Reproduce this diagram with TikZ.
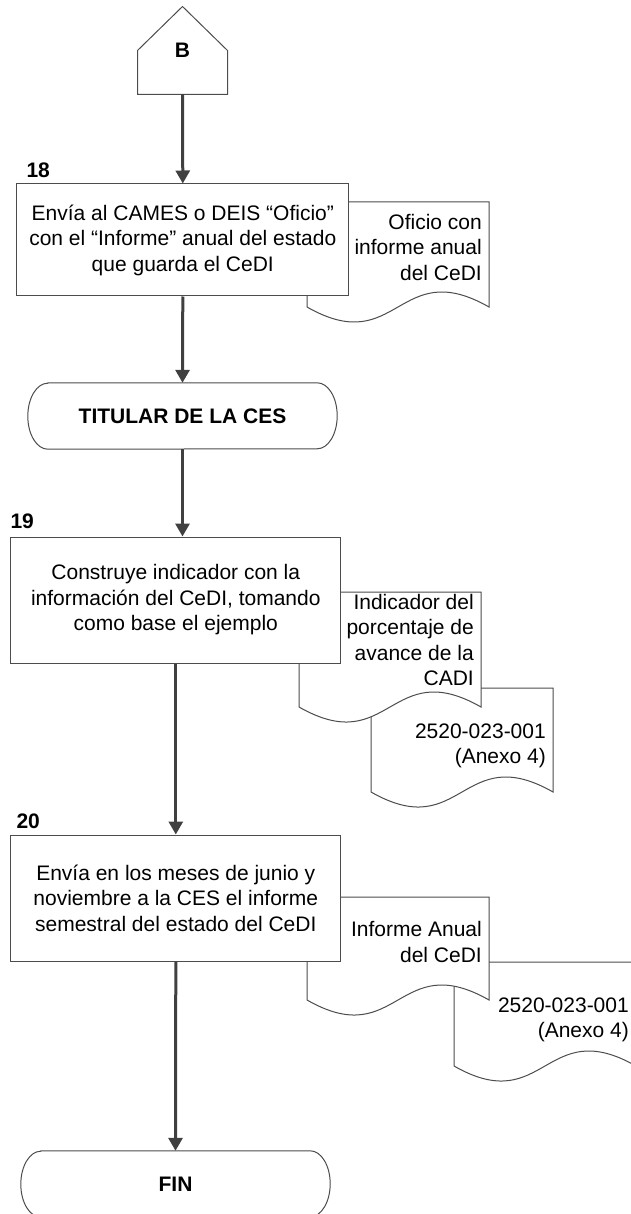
\documentclass[tikz,border=0pt]{standalone}
\usepackage{fontspec}
\setmainfont{Liberation Sans}
\usetikzlibrary{arrows.meta,positioning,calc}

\newcommand\dgfont{\fontsize{21}{25.5}\selectfont}

\tikzset{
  proc/.style={draw=black!70,line width=1pt,fill=white,align=center,inner sep=0pt,font=\dgfont},
  term/.style={minimum width=309pt,minimum height=66pt,inner sep=0pt,font=\dgfont\bfseries},
  conn/.style={minimum width=89.6pt,minimum height=87.6pt,inner sep=0pt,font=\dgfont\bfseries},
  outline/.style={draw=black!70,line width=1pt,fill=white},
  doctext/.style={align=right,anchor=east,inner sep=0pt,font=\dgfont},
  num/.style={inner sep=0pt,font=\dgfont\bfseries},
  flow/.style={draw=black!75,line width=3pt,-{Triangle[length=13pt,width=14pt]}}
}

\begin{document}
\begin{tikzpicture}[x=1pt,y=1pt]
  \useasboundingbox (0,0) rectangle (630,-1214);
  % documentos (se dibujan antes que las cajas)
  \foreach \nm/\xl/\yt/\yb/\ty/\txt in {
      d18/307/202/307/247/{Oficio con\\informe anual\\del CeDI},
      d19b/371/688/792/746/{2520-023-001\\(Anexo 4)},
      d19a/299/592/707/640/{Indicador del\\porcentaje de\\avance de la\\CADI},
      d20b/454/962/1066/1020/{2520-023-001\\(Anexo 4)},
      d20a/307/897/1000/942/{Informe Anual\\del CeDI}}{
    \draw[outline] (\xl,-\yt) -- (\xl+182,-\yt) -- (\xl+182,-\yb)
      .. controls (\xl+91,-\yb+52) and (\xl+91,-\yb-52) .. (\xl,-\yb) -- cycle;
    \node[doctext] (\nm) at (\xl+175,-\ty) {\txt};
  }
  % conector de pagina
  \node[conn] (B) at (182.5,-50.5) {B};
  \draw[outline,fill=none] (B.south west) -- (B.west) -- (B.north) -- (B.east) -- (B.south east) -- cycle;
  % actividades
  \node[proc,minimum width=332pt,minimum height=112pt] (box18) at (182.8,-240)
    {Envía al CAMES o DEIS “Oficio”\\con el “Informe” anual del estado\\que guarda el CeDI};
  \node[term] (ces) at (182.5,-416) {TITULAR DE LA CES};
  \node[proc,minimum width=330pt,minimum height=126pt] (box19) at (175.8,-600)
    {Construye indicador con la\\información del CeDI, tomando\\como base el ejemplo};
  \node[proc,minimum width=330pt,minimum height=126pt] (box20) at (175.8,-898)
    {Envía en los meses de junio y\\noviembre a la CES el informe\\semestral del estado del CeDI};
  \node[term] (fin) at (175.5,-1184) {FIN};
  \foreach \t in {ces,fin}
    \draw[outline,fill=none] ($(\t.north west)+(20,0)$) -- ($(\t.north east)+(-20,0)$)
      arc[start angle=90,end angle=-90,x radius=20pt,y radius=33pt]
      -- ($(\t.south west)+(20,0)$)
      arc[start angle=270,end angle=90,x radius=20pt,y radius=33pt] -- cycle;
  % numeros de paso
  \node[num,above right=6pt and 10pt of box18.north west] (n18) {18};
  \node[num,above right=8pt and 0pt of box19.north west] (n19) {19};
  \node[num,above right=6pt and 6pt of box20.north west] (n20) {20};
  % flujo
  \draw[flow] (B.south) -- (box18.north);
  \draw[flow] (box18.south) -- (ces.north);
  \draw[flow] (ces.south) -- (ces.south |- box19.north);
  \draw[flow] (box19.south) -- (box20.north);
  \draw[flow] (box20.south) -- (fin.north);
\end{tikzpicture}
\end{document}
